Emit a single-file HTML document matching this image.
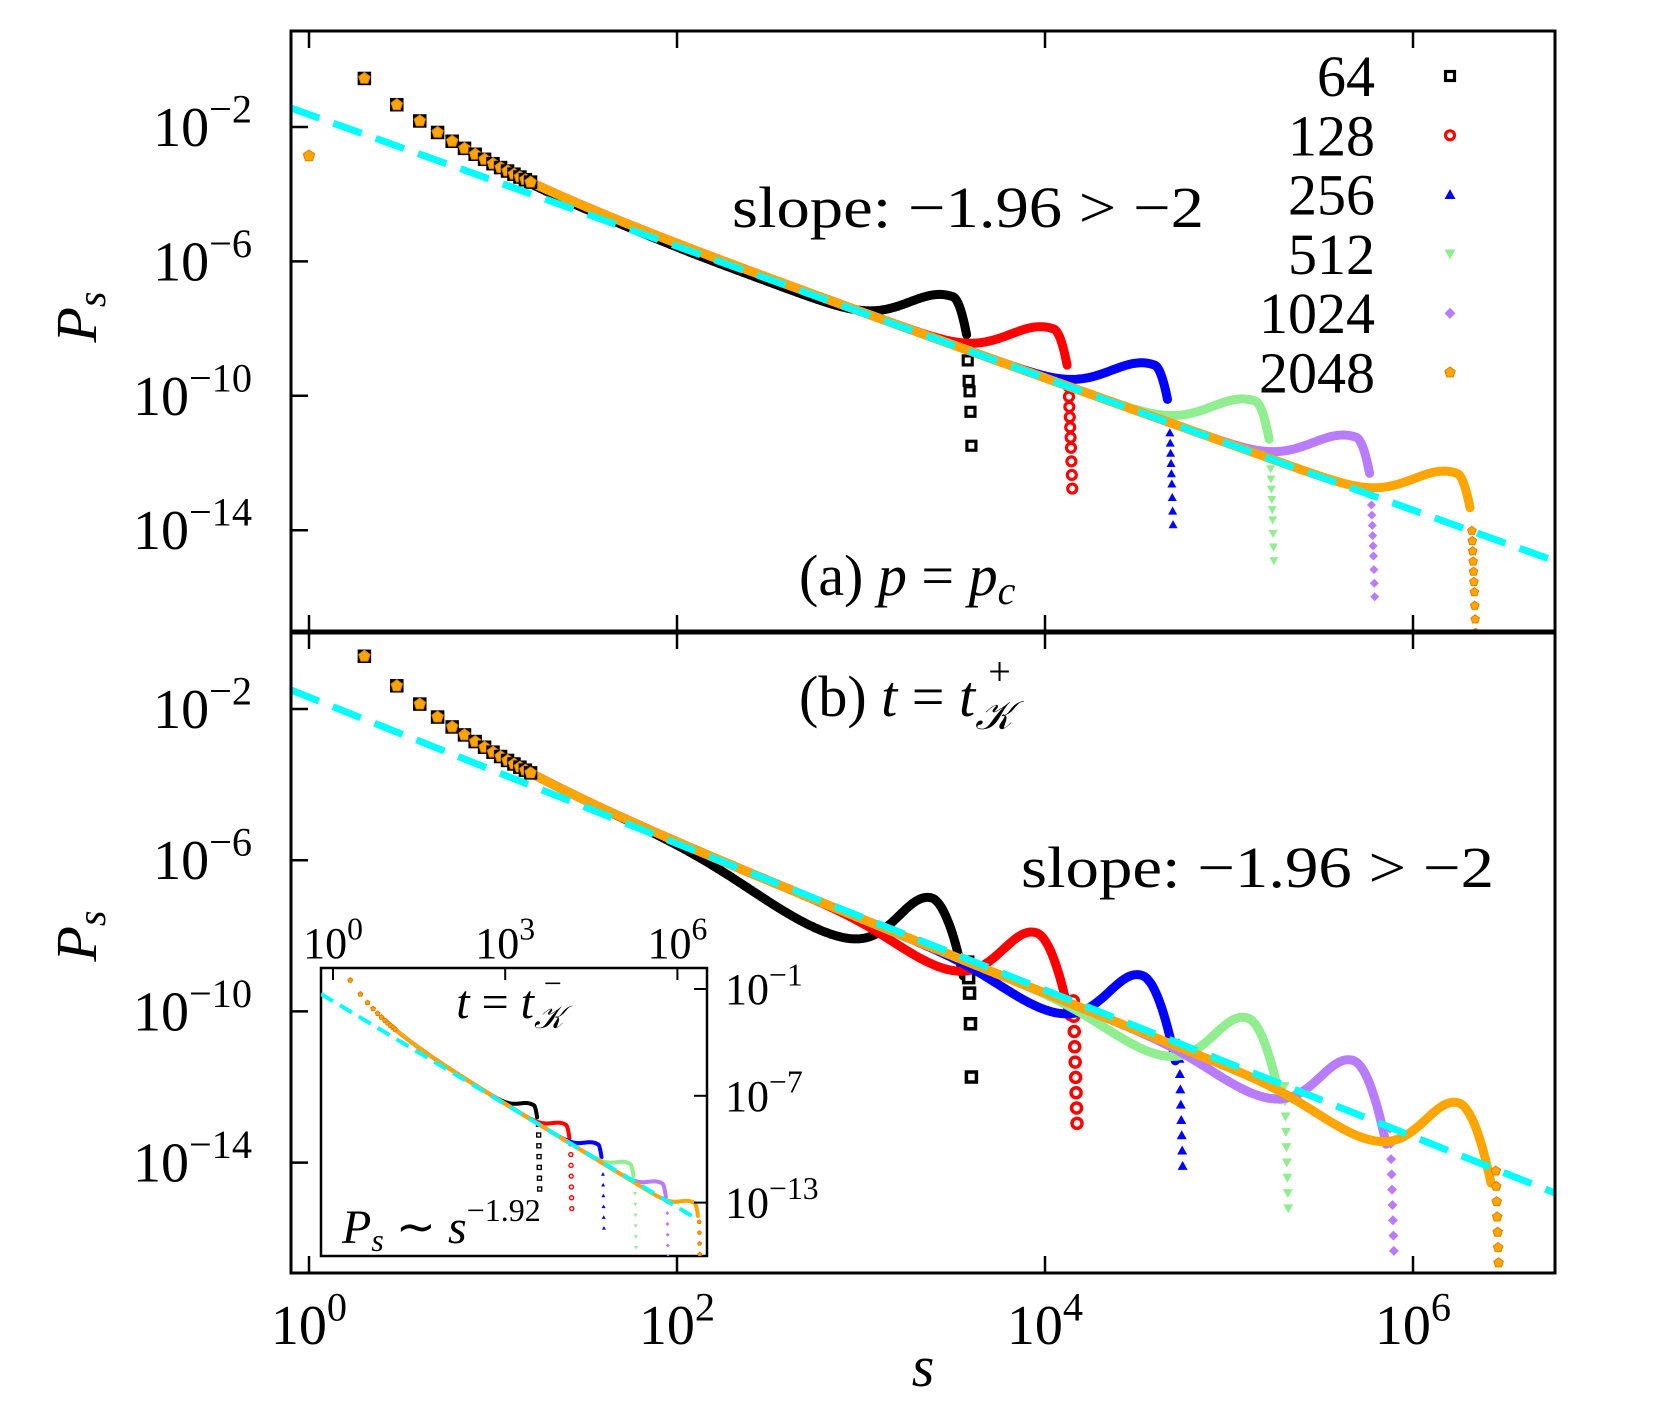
<!DOCTYPE html>
<html><head><meta charset="utf-8"><style>
html,body{margin:0;padding:0;background:#fff;}
svg{display:block;}
text{font-family:"Liberation Serif",serif;fill:#000;}
</style></head><body>
<svg id="s" width="1659" height="1427" viewBox="0 0 1659 1427" xmlns="http://www.w3.org/2000/svg">
<defs>
<clipPath id="ca"><rect x="291" y="31" width="1264" height="601"/></clipPath>
<clipPath id="cb"><rect x="291" y="632" width="1264" height="641"/></clipPath>
<clipPath id="ci"><rect x="321" y="968" width="386" height="288"/></clipPath>
</defs>
<g id="ga" clip-path="url(#ca)"></g>
<g id="gb" clip-path="url(#cb)"></g>
<rect x="291" y="31" width="1264" height="1242" fill="none" stroke="#000" stroke-width="3"/>
<line x1="291" y1="632" x2="1555" y2="632" stroke="#000" stroke-width="5"/>
<g id="ticks" stroke="#000" stroke-width="2.5"></g>
<rect x="321" y="968" width="386" height="288" fill="#fff" stroke="#000" stroke-width="2.5"/>
<g id="gi" clip-path="url(#ci)"></g>
<g id="labels"></g>
<g font-size="58">
<text x="732" y="227" textLength="472" lengthAdjust="spacingAndGlyphs">slope:  −1.96 &gt; −2</text>
<text x="1021" y="887" textLength="473" lengthAdjust="spacingAndGlyphs">slope:  −1.96 &gt; −2</text>
<text x="799" y="595">(a) <tspan font-style="italic">p</tspan> = <tspan font-style="italic">p</tspan><tspan font-style="italic" font-size="40" dy="9">c</tspan></text>
<text x="799" y="716">(b) <tspan font-style="italic">t</tspan> = <tspan font-style="italic">t</tspan><tspan font-style="italic" font-size="40" dy="13">𝒦</tspan><tspan font-size="40" dx="-24" dy="-44">+</tspan></text>
<text x="923" y="1386" font-style="italic" text-anchor="middle">s</text>
<g transform="translate(96,317) rotate(-90)"><text text-anchor="middle" font-style="italic">P<tspan font-size="40" dy="9">s</tspan></text></g>
<g transform="translate(96,936) rotate(-90)"><text text-anchor="middle" font-style="italic">P<tspan font-size="40" dy="9">s</tspan></text></g>
</g>
<g font-size="48">
<text x="510" y="1018" text-anchor="middle"><tspan font-style="italic">t</tspan> = <tspan font-style="italic">t</tspan><tspan font-style="italic" font-size="32" dy="10">𝒦</tspan><tspan font-size="32" dx="-20" dy="-34">−</tspan></text>
<text x="342" y="1243"><tspan font-style="italic">P</tspan><tspan font-style="italic" font-size="32" dy="8">s</tspan><tspan dy="-8"> ∼ </tspan><tspan font-style="italic">s</tspan><tspan font-size="32" dy="-22">−1.92</tspan></text>
</g>
</svg>
<script>
const NS="http://www.w3.org/2000/svg";
function el(p,tag,a){const e=document.createElementNS(NS,tag);for(const k in a)e.setAttribute(k,a[k]);p.appendChild(e);return e;}
const cols=["#000000","#ff0000","#0000ff","#90ee90","#b77cff","#ffa500"];
function marker(g,type,x,y,r,c){
  if(type==0){el(g,"rect",{x:x-r,y:y-r,width:2*r,height:2*r,fill:"#fff",stroke:c,"stroke-width":r*0.7});}
  else if(type==1){el(g,"circle",{cx:x,cy:y,r:r,fill:"#fff",stroke:c,"stroke-width":r*0.7});}
  else if(type==2){el(g,"polygon",{points:`${x},${y-r} ${x+r},${y+r*0.8} ${x-r},${y+r*0.8}`,fill:c});}
  else if(type==3){el(g,"polygon",{points:`${x},${y+r} ${x+r},${y-r*0.8} ${x-r},${y-r*0.8}`,fill:c});}
  else if(type==4){el(g,"polygon",{points:`${x},${y-r} ${x+r},${y} ${x},${y+r} ${x-r},${y}`,fill:c});}
  else {let p=[];for(let k=0;k<5;k++){const a=-Math.PI/2+k*2*Math.PI/5;p.push((x+r*Math.cos(a)).toFixed(1)+","+(y+r*Math.sin(a)).toFixed(1));}el(g,"polygon",{points:p.join(" "),fill:c,stroke:"#e08000","stroke-width":1});}
}
function panel(g,X,Y,base,c0,step,dfun,lw,mr,drops,x0ls,cutend){
  const corr=ls=>2.8/Math.pow(10,0.75*ls);
  for(let i=0;i<6;i++){
    const lsc=c0+step*i;
    let d="";
    for(let ls=x0ls;ls<=lsc-cutend;ls+=0.006){
      const u=ls-lsc;
      const L=base-1.96*ls+corr(ls)+dfun(u,i);
      d+=(d?"L":"M")+X(ls).toFixed(1)+","+Y(L).toFixed(1);
    }
    el(g,"path",{d:d,fill:"none",stroke:cols[i],"stroke-width":lw,"stroke-linejoin":"round","stroke-linecap":"round"});
    const dr=drops(i);
    dr.forEach((dd,k)=>{
      const ls=lsc-0.02+0.02*k/(dr.length-1);
      const L=base-1.96*ls+dd;
      marker(g,i,X(ls),Y(L),mr,cols[i]);
    });
  }
}
const Xa=ls=>309+184*ls, Ya=L=>127+(-2-L)*33.6, Yb=L=>709+(-2-L)*37.8;
const ga=document.getElementById("ga"), gb=document.getElementById("gb"), gi=document.getElementById("gi");
function ramp(u,A){
  if(u<-0.1) return A*Math.exp(-Math.pow((u+0.1)/0.33,2));
  return A-180*(u+0.1)*(u+0.1);
}
function da(u,i){
  let d=(i==0)?-0.12*Math.min(1,Math.max(0,(u+3)/1.5)):0;
  return d+ramp(u,1.55);
}
function db(u,i){
  let d=(i==0)?-0.75*Math.exp(-Math.pow((u+0.8)/0.55,2)):-0.45*Math.exp(-Math.pow((u+0.75)/0.35,2));
  if(u<-0.22) return d+1.55*Math.exp(-Math.pow((u+0.22)/0.24,2));
  return d+1.55-60*(u+0.22)*(u+0.22);
}
const dropsA=i=> i==0?[-0.3,-0.9,-1.2,-1.8,-2.8]:[0,-0.3,-0.6,-0.9,-1.2,-1.5,-1.8,-2.2,-2.6,-3.0];
const dropsB=i=> i==0?[0,-0.4,-0.8,-1.6,-3.0]:[0.1,-0.3,-0.7,-1.1,-1.5,-1.9,-2.3,-2.7,-3.1];
function earlyMarks(g,X,Y,base,withOne){
  for(let s=2;s<=16;s++){
    const ls=Math.log10(s);
    const L=base-1.96*ls+2.8/Math.pow(s,0.75);
    marker(g,0,X(ls),Y(L),5,"#000");
    marker(g,5,X(ls),Y(L),6,"#ffa500");
  }
  if(withOne) marker(g,5,X(0),Y(-2.86),6,"#ffa500");
}
panel(ga,Xa,Ya,-1.63,3.6,0.548,da,9,4.5,dropsA,1.15,0.025);
earlyMarks(ga,Xa,Ya,-1.63,true);
el(ga,"line",{x1:291,y1:108,x2:1555,y2:561,stroke:"#00ffff","stroke-width":7,"stroke-dasharray":"30 15"});
panel(gb,Xa,Yb,-1.68,3.6,0.574,db,9,5,dropsB,1.15,0.04);
earlyMarks(gb,Xa,Yb,-1.68,false);
el(gb,"line",{x1:291,y1:690,x2:1555,y2:1193,stroke:"#00ffff","stroke-width":7,"stroke-dasharray":"30 15"});
const Xi=ls=>333+57.4*ls, Yi=L=>989+(-1-L)*17.8;
function di(u,i){return ramp(u,0.9);}
panel(gi,Xi,Yi,-1.58,3.6,0.56,di,4,2,i=>[0,-0.6,-1.2,-1.8,-2.4,-3.0,-3.6],1.0,0.04);
for(let s=2;s<=12;s++){const ls=Math.log10(s);marker(gi,5,Xi(ls),Yi(-1.58-1.96*ls+2.8/Math.pow(s,0.75)),2.5,"#ffa500");}
el(gi,"line",{x1:321,y1:994,x2:697,y2:1219,stroke:"#00ffff","stroke-width":4,"stroke-dasharray":"14 8"});
const tk=document.getElementById("ticks");
[0,2,4,6].forEach(k=>{const x=Xa(k);
  el(tk,"line",{x1:x,y1:31,x2:x,y2:48});
  el(tk,"line",{x1:x,y1:615,x2:x,y2:649});
  el(tk,"line",{x1:x,y1:1256,x2:x,y2:1273});
});
[-2,-6,-10,-14].forEach(L=>{
  el(tk,"line",{x1:291,y1:Ya(L),x2:308,y2:Ya(L)});
  el(tk,"line",{x1:291,y1:Yb(L),x2:308,y2:Yb(L)});
});
const lab=document.getElementById("labels");
[0,3,6].forEach(k=>{const x=Xi(k);el(lab,"line",{x1:x,y1:968,x2:x,y2:980,stroke:"#000","stroke-width":2});});
[-1,-7,-13].forEach(L=>{const y=Yi(L);el(lab,"line",{x1:694,y1:y,x2:707,y2:y,stroke:"#000","stroke-width":2});});
function pow(g,x,y,e,fs,anchor){
  const t=el(g,"text",{x:x,y:y,"font-size":fs,"text-anchor":anchor});
  t.appendChild(document.createTextNode("10"));
  const sp=el(t,"tspan",{"font-size":fs*0.72,dy:-fs*0.42});sp.textContent=e;
}
[-2,-6,-10,-14].forEach(L=>{
  pow(lab,252,Ya(L)+19,"−"+(-L),56,"end");
  pow(lab,252,Yb(L)+19,"−"+(-L),56,"end");
});
[0,2,4,6].forEach(k=>pow(lab,Xa(k),1344,""+k,56,"middle"));
[0,3,6].forEach(k=>pow(lab,Xi(k),958,""+k,44,"middle"));
[-1,-7,-13].forEach(L=>pow(lab,725,Yi(L)+15,"−"+(-L),44,"start"));
const names=["64","128","256","512","1024","2048"];
names.forEach((n,i)=>{
  const y=76+59.3*i;
  const t=el(lab,"text",{x:1375,y:y+20,"font-size":58,"text-anchor":"end"});t.textContent=n;
  marker(lab,i,1450,y,i<2?4.5:5.5,cols[i]);
});
</script>
</body></html>
